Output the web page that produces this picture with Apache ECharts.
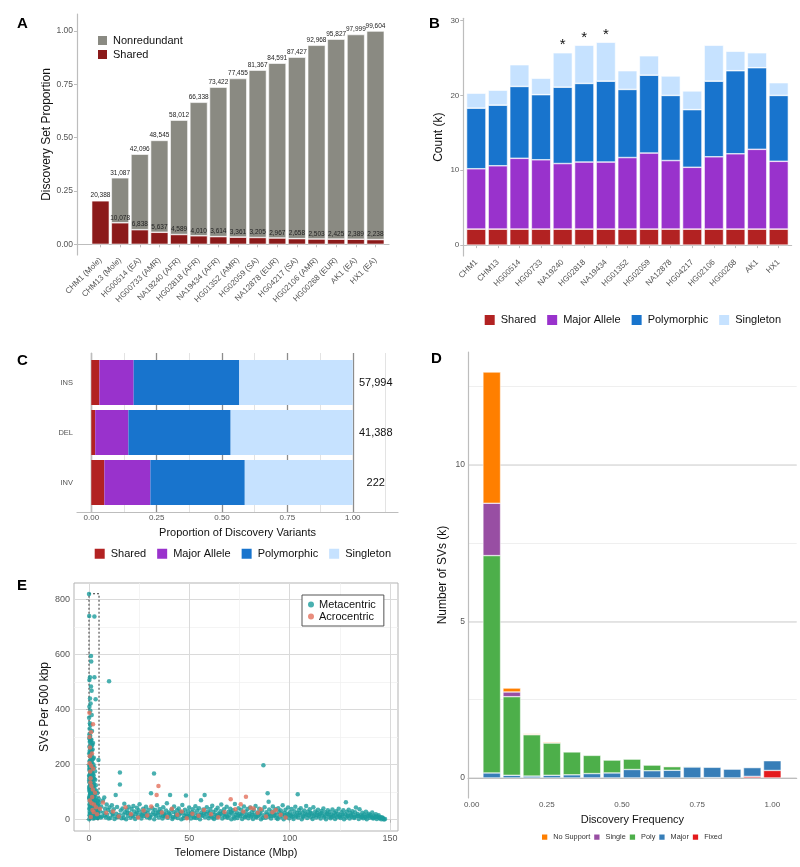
<!DOCTYPE html>
<html><head><meta charset="utf-8">
<script src="https://cdn.jsdelivr.net/npm/echarts@6/dist/echarts.min.js"></script>
<style>html,body{margin:0;padding:0;background:#fff}#c{width:800px;height:867px}</style>
</head><body><div id="c"></div>
<script>
// ---------------- Panel A ----------------
const aSamples = ['CHM1 (Mole)','CHM13 (Mole)','HG00514 (EA)','HG00733 (AMR)','NA19240 (AFR)','HG02818 (AFR)','NA19434 (AFR)','HG01352 (AMR)','HG02059 (SA)','NA12878 (EUR)','HG04217 (SA)','HG02106 (AMR)','HG00268 (EUR)','AK1 (EA)','HX1 (EA)'];
const aCumulative = [20388,31087,42096,48545,58012,66338,73422,77455,81367,84591,87427,92968,95827,97999,99604];
const aShared = [20388,10078,6838,5637,4589,4010,3614,3361,3205,2967,2658,2503,2425,2389,2238];

// ---------------- Panel B (thousands, segment heights) ----------------
const bSamples = ['CHM1','CHM13','HG00514','HG00733','NA19240','HG02818','NA19434','HG01352','HG02059','NA12878','HG04217','HG02106','HG00268','AK1','HX1'];
const bShared = [2.14,2.14,2.14,2.14,2.14,2.14,2.14,2.14,2.14,2.14,2.14,2.14,2.14,2.14,2.14];
const bMajor = [8.06,8.46,9.46,9.26,8.76,8.96,8.96,9.56,10.16,9.16,8.26,9.66,10.06,10.66,9.06];
const bPoly = [8.1,8.1,9.6,8.7,10.2,10.5,10.8,9.1,10.4,8.7,7.7,10.1,11.1,10.9,8.8];
const bSingleton = [2.0,2.0,2.9,2.2,4.6,5.1,5.2,2.5,2.6,2.6,2.5,4.8,2.6,2.0,1.7];
const bStars = ['','','','','*','*','*','','','','','','','',''];

// ---------------- Panel C (proportions) ----------------
const cTypes = ['INS','DEL','INV'];
const cTotals = [57994, 41388, 222];
const cShared = [0.031, 0.015, 0.050];
const cMajor = [0.131, 0.127, 0.176];
const cPoly = [0.404, 0.391, 0.361];
const cSingleton = [0.434, 0.467, 0.413];

// ---------------- Panel D (thousands) ----------------
const dFreq = ['0.067','0.133','0.200','0.267','0.333','0.400','0.467','0.533','0.600','0.667','0.733','0.800','0.867','0.933','1.000'];
const dFixed = [0,0,0,0,0,0,0,0,0,0,0,0.01,0,0.05,0.24];
const dMajor = [0.16,0.085,0.06,0.085,0.10,0.14,0.16,0.27,0.23,0.245,0.35,0.33,0.28,0.28,0.31];
const dPoly = [6.94,2.51,1.32,1.03,0.73,0.58,0.41,0.33,0.18,0.115,0.02,0,0,0,0];
const dSingle = [1.67,0.15,0.01,0,0,0,0,0,0,0,0,0,0,0,0];
const dNoSupport = [4.19,0.125,0.025,0.03,0,0,0,0,0,0.02,0,0,0,0,0];

// ---------------- Panel E ([Mbp, SVs per 500 kbp]) ----------------
const eMetacentric = [
[0,819],[0.1,739],[2.7,737],[1,594],[1.1,574],[0.5,517],[2.7,517],[0.2,507],[1,483],[1.3,468],[3.3,437],[0.5,440],[0.2,410],[0.8,422],[0.7,344],[0.3,330],[1.5,322],[0.4,300],[1.2,290],[0.6,285],[2,278],[0.2,265],[1.8,255],[0.9,248],[0.1,240],[1.4,232],[2.4,225],[4.7,217],[0.3,212],[1.1,205],[2.2,200],[0.6,195],[1.6,188],[0.2,180],[3,176],[0.8,170],[1.9,165],[0.4,160],[1.3,152],[2.6,148],[0.1,142],[0.9,138],[2.1,134],[1.5,128],[3.4,125],[0.5,120],[1.2,115],[2.8,110],[0.3,106],[1.7,100],[4.1,96],[0.7,92],[2.4,88],[1.1,84],[3.6,80],[0.2,76],[1.9,72],[4.4,68],[0.8,64],[2.9,60],[1.4,56],[3.9,52],[0.5,48],[2.2,44],[4.8,40],[1.0,36],[3.2,32],[0.3,28],[2.6,24],[4.5,20],[1.7,16],[0.6,12],[3.8,8],[2.0,4],[0.1,2],[4.2,14],[1.3,70],[0.4,90],[2.5,130],[3.1,145],[0.9,225],[1.6,270],[0.2,310],[2.3,160],[3.7,105],[4.9,75],[1.8,190],[0.7,245],
[0.3,185],[1.0,175],[0.6,155],[1.4,140],[2.0,118],[0.1,112],[0.9,98],[1.6,86],[2.7,78],[0.4,66],[1.2,58],[3.3,50],[0.7,42],[1.9,30],[2.8,18],[4.0,30],[0.2,55],[3.5,62],[4.6,50],[1.5,46],
[0.5,230],[1.3,215],[0.2,198],[1.0,188],[0.7,178],[1.7,168],[0.4,158],[1.1,146],[0.2,136],[1.8,124],[0.6,112],[1.4,104],[0.9,94],[2.3,96],[0.3,84],[1.6,76],[2.1,66],[0.8,52],[1.5,40],[2.4,34],[0.5,22],[1.2,10],[2.9,12],[3.4,26],[4.3,6],[0.1,160],[0.1,120],[0.1,80],[0.1,40],[2.2,150],[2.6,120],[3.0,70],[3.6,36],[1.0,262],[0.4,282],[1.3,252],[0.6,305],[2.0,220],[2.9,90],[4.6,10],
[0.35,250],[0.75,238],[1.15,222],[0.45,214],[1.45,207],[0.25,192],[0.85,183],[1.25,172],[0.55,166],[1.65,156],[0.15,150],[1.05,132],[0.65,126],[1.85,116],[0.35,102],[1.25,92],[2.15,82],[0.55,78],[1.75,62],[2.45,72],[0.95,46],[1.85,50],[2.75,40],[3.25,20],[3.85,24],[0.25,16],[1.45,26],[2.35,8],[4.45,32],[3.05,6],[0.85,290],[1.45,275],[0.15,295],[2.65,190],[3.15,100],[4.25,58],[0.45,350],[0.05,370],[0.65,395],[1.35,380],
[5.2,62],[5.6,30],[6.1,48],[6.4,12],[6.9,70],[7.3,25],[7.6,81],[8.0,40],[8.4,8],[8.8,55],[9.1,18],[9.5,35],[10,502],[10.2,44],[10.6,6],[11.0,28],[11.4,52],[11.9,15],[12.3,38],[12.7,3],[13.3,90],[13.6,22],[14.0,46],[14.5,10],[15.4,171],[15.4,128],[15.8,33],[16.2,5],[16.7,41],[17.1,19],[17.6,58],[18.0,27],[18.5,2],[18.9,36],[19.4,14],[19.8,47],
[20.3,24],[20.7,7],[21.2,39],[21.6,16],[22.1,50],[22.5,30],[23.0,3],[23.4,21],[23.9,43],[24.3,11],[24.8,34],[25.2,56],[25.7,19],[26.1,4],[26.6,28],[27.0,40],[27.5,13],[27.9,31],[28.4,47],[28.8,9],[29.3,23],[29.7,36],[30.2,5],[30.9,96],[31.1,18],[31.6,42],[32.0,27],[32.4,168],[32.5,2],[33.0,35],[33.4,14],[33.9,52],[34.3,24],[34.8,8],[35.2,39],[35.7,17],[36.1,30],[36.6,4],[37.0,45],[37.5,21],[37.9,12],[38.4,33],[38.8,60],[39.3,7],[39.7,26],
[40.4,90],[40.6,15],[41.1,37],[41.5,3],[42.0,28],[42.4,48],[42.9,10],[43.3,22],[43.8,34],[44.2,6],[44.7,41],[45.1,18],[45.6,29],[46.0,2],[46.5,53],[46.9,25],[47.4,13],[47.8,36],[48.3,88],[48.5,20],[49.0,8],[49.4,31],[49.9,44],[50.3,16],[50.8,4],[51.2,27],[51.7,38],[52.1,11],[52.6,23],[53.0,49],[53.5,6],[53.9,33],[54.4,19],[54.8,42],[55.3,2],[55.8,71],[56.0,26],[56.5,14],[57.0,37],[57.6,90],[57.8,9],[58.3,21],[58.7,45],[59.2,30],[59.6,5],
[60.1,24],[60.5,39],[61.0,12],[61.4,51],[61.9,28],[62.3,3],[62.8,19],[63.2,35],[63.7,8],[64.1,43],[64.6,22],[65.0,14],[65.5,31],[65.9,55],[66.4,4],[66.8,26],[67.3,38],[67.7,10],[68.2,20],[68.6,47],[69.1,7],[69.5,29],[70.0,16],[70.4,40],[70.9,2],[71.3,24],[71.8,34],[72.2,11],[72.7,57],[73.1,18],[73.6,27],[74.0,6],[74.5,42],[74.9,21],[75.4,13],[75.8,36],[76.3,3],[76.7,25],[77.2,48],[77.6,9],[78.1,30],[78.5,17],[79.0,39],[79.4,5],
[79.9,22],[80.3,44],[80.8,12],[81.2,28],[81.7,3],[82.1,35],[82.6,19],[83.0,50],[83.5,8],[83.9,26],[84.4,14],[84.8,40],[85.3,23],[85.7,2],[86.2,33],[86.9,198],[87.1,16],[87.5,45],[88.0,7],[88.4,27],[89.0,96],[89.3,11],[89.5,65],[89.8,37],[90.2,20],[90.7,4],[91.1,30],[91.6,48],[92.0,13],[92.5,24],[92.9,38],[93.4,6],[93.8,18],[94.3,42],[94.7,28],[95.2,9],[95.6,33],[96.1,15],[96.5,52],[97.0,2],[97.4,25],[97.9,36],[98.3,10],[98.8,21],[99.2,44],
[99.7,5],[100.1,27],[100.6,14],[101.0,39],[101.5,19],[101.9,3],[102.4,31],[102.8,47],[103.3,11],[103.7,24],[104.0,92],[104.2,8],[104.6,35],[105.1,17],[105.5,42],[106.0,2],[106.4,26],[106.9,13],[107.3,33],[107.8,21],[108.2,50],[108.7,6],[109.1,29],[109.6,15],[110.0,38],[110.5,10],[110.9,23],[111.4,3],[111.8,45],[112.3,18],[112.7,30],[113.2,8],[113.6,25],[114.1,36],[114.5,12],[115.0,20],[115.4,4],[115.9,32],[116.3,16],[116.8,41],[117.2,9],[117.7,27],[118.1,2],[118.6,22],[119.0,34],
[119.5,11],[119.9,28],[120.4,5],[120.8,19],[121.3,37],[121.7,14],[122.2,25],[122.6,3],[123.1,31],[123.5,9],[124.0,22],[124.4,40],[124.9,16],[125.3,6],[125.8,27],[126.2,12],[126.7,34],[127.1,2],[127.6,20],[128.0,63],[128.2,8],[128.5,29],[129.0,15],[129.4,36],[129.9,4],[130.3,24],[130.8,11],[131.2,31],[131.7,18],[132.1,6],[132.6,27],[133.0,44],[133.5,13],[133.9,21],[134.4,3],[134.8,38],[135.3,16],[135.7,9],[136.2,25],[136.6,5],[137.1,19],[137.5,12],[138.0,29],[138.4,2],[138.9,15],[139.3,22],[139.8,7],[140.2,17],[140.7,11],[141.1,26],[141.6,4],[142.0,14],[142.5,9],[142.9,20],[143.4,3],[143.8,12],[144.3,16],[144.7,6],[145.2,10],[145.6,2],[146.1,8],[146.5,4],[147.0,1],[147.5,3],
[5.9,8],[7.9,15],[9.8,4],[11.7,21],[13.9,9],[15.1,17],[17.3,6],[19.1,24],[21.9,12],[24.0,26],[26.3,15],[28.1,20],[30.5,11],[32.8,19],[34.6,28],[36.9,13],[38.1,18],[40.0,22],[41.8,9],[43.6,16],[45.4,23],[47.1,5],[48.9,14],[50.6,21],[52.4,7],[54.1,12],[55.9,17],[57.4,24],[59.9,13],[61.7,7],[63.5,15],[65.3,21],[67.0,18],[68.9,12],[70.7,27],[72.5,4],[74.3,15],[76.0,19],[77.9,12],[79.7,14],[81.5,17],[83.2,11],[85.0,18],[86.6,7],[88.7,19],[90.5,13],[92.3,17],[94.0,3],[95.9,22],[97.7,16],[99.5,18],[101.3,11],[103.0,16],[104.9,23],[106.7,10],[108.5,18],[110.3,24],[112.0,13],[113.9,17],[115.7,24],[117.5,14],[119.3,19],[121.0,10],[122.9,17],[124.7,11],[126.5,19],[128.8,13],[130.6,16],[132.4,10],[134.1,14],[136.0,12],[137.8,8],[139.6,13],[141.4,7],[143.1,10],[144.9,5],[146.3,6]
];
const eAcrocentric = [
[0.2,388],[2,346],[1,317],[0.5,262],[1.5,240],[0.3,205],[2.1,185],[0.8,150],[1.2,122],[3,98],[0.4,70],[2.5,55],[1.7,35],[4,20],[0.9,10],[3.5,45],[0.6,175],[1.9,110],
[0.4,230],[1.1,195],[0.7,135],[1.6,82],[2.3,28],[0.3,300],[1.3,60],
[5.5,40],[7,62],[8.6,25],[12,30],[14.8,12],[18.2,45],[20.9,20],[24.5,8],[27.2,33],[29,15],[33.7,90],[34.6,122],[36.3,26],[39,10],[41.3,40],[44,18],[46.2,30],[48.7,5],[51.5,22],[54.6,14],[57.3,35],[60.8,20],[64.4,9],[67.5,28],[70.6,74],[72.9,38],[75.6,56],[76.9,30],[78.2,83],[80.5,43],[82,41],[84.1,25],[85.6,38],[88.2,12],[91.4,27],[93.1,35],[95.5,18],[98,8],[31,48]
];
const eWindow = [[0, 0], [5, 820]];

// ---------------- helpers ----------------
const FONT = 'Liberation Sans, Arial, Helvetica, sans-serif';
const TICK = '#555';
const AXIS_LINE = {show:true, lineStyle:{color:'#BDBDBD', width:1.2}};
const fmt = v => v.toLocaleString('en-US');
const aTotal = aCumulative[aCumulative.length - 1];
function valAxis(gridIndex, min, max, step, extra) {
  return Object.assign({
    type:'value', gridIndex, min, max, minInterval:step, maxInterval:step,
    splitNumber: Math.max(1, Math.round((max - min) / step)),
    axisTick:{show:false}, splitLine:{show:false}, axisLine:{show:false},
    axisLabel:{show:false}
  }, extra);
}
function catAxis(gridIndex, data, extra) {
  return Object.assign({type:'category', gridIndex, data, boundaryGap:true,
    axisLine:{show:false}, axisTick:{show:false}, axisLabel:{show:false}, splitLine:{show:false}}, extra);
}
const lbl = (o) => Object.assign({show:true, color:TICK, fontFamily:FONT, showMinLabel:false, showMaxLabel:false}, o);
const nm = (o) => Object.assign({color:'#111', fontSize:11, fontFamily:FONT}, o);
const COL = {shared:'#B22222', major:'#9932CC', poly:'#1874CD', single:'#C6E2FF'};
const bd = {borderColor:'#fff', borderWidth:0.6};
const letter = (t, left, top) => ({text:t, left, top, textStyle:{fontSize:15, fontWeight:'bold', color:'#000', fontFamily:FONT}});

const chart = echarts.init(document.getElementById('c'), null, {renderer:'canvas'});
const option = {
  animation:false,
  backgroundColor:'#fff',
  textStyle:{fontFamily:FONT},
  title:[letter('A',12,11), letter('B',424,11), letter('C',12,348), letter('D',426,346), letter('E',12,573)],
  grid:[
    {left:77, top:14, width:312, height:241, outerBoundsMode:'none'},          // 0 A frame
    {left:90.68, top:14, width:294.6, height:241, outerBoundsMode:'none'},     // 1 A bars
    {left:463.3, top:18.3, width:328.3, height:237.7, outerBoundsMode:'none'}, // 2 B frame
    {left:465.46, top:18.3, width:324, height:237.7, outerBoundsMode:'none'},  // 3 B bars
    {left:77, top:353, width:321, height:159, outerBoundsMode:'none'},         // 4 C frame
    {left:77, top:357.5, width:321, height:150, outerBoundsMode:'none'},       // 5 C bars
    {left:468, top:352, width:328.7, height:446, outerBoundsMode:'none'},      // 6 D frame
    {left:481.72, top:352, width:300.65, height:446, outerBoundsMode:'none'},  // 7 D bars
    {left:74, top:583, width:324, height:248, show:true, borderColor:'#B3B3B3', borderWidth:1, outerBoundsMode:'none'} // 8 E
  ],
  legend:[
    {left:96, top:34, orient:'vertical', padding:0, itemGap:1, itemWidth:11, itemHeight:11, icon:'rect',
     textStyle:{fontSize:11, color:'#111', fontFamily:FONT},
     data:[{name:'Nonredundant', itemStyle:{color:'#8A8A82'}}, {name:'Shared', itemStyle:{color:'#8B1A1A'}}]},
    {left:482.7, top:313, orient:'horizontal', padding:0, itemGap:9, itemWidth:12, itemHeight:12, icon:'rect',
     textStyle:{fontSize:11, color:'#111', fontFamily:FONT},
     data:[{name:'Shared', itemStyle:{color:COL.shared}}, {name:'Major Allele', itemStyle:{color:COL.major}}, {name:'Polymorphic', itemStyle:{color:COL.poly}}, {name:'Singleton', itemStyle:{color:COL.single}}]},
    {left:92.7, top:546.7, orient:'horizontal', padding:0, itemGap:9, itemWidth:12, itemHeight:12, icon:'rect',
     textStyle:{fontSize:11, color:'#111', fontFamily:FONT},
     data:[{name:'Shared', itemStyle:{color:COL.shared}}, {name:'Major Allele', itemStyle:{color:COL.major}}, {name:'Polymorphic', itemStyle:{color:COL.poly}}, {name:'Singleton', itemStyle:{color:COL.single}}]},
    {left:540, top:832.5, orient:'horizontal', padding:0, itemGap:2, itemWidth:7.3, itemHeight:7.3, icon:'rect',
     textStyle:{fontSize:7.3, color:'#333', fontFamily:FONT},
     data:['No Support','Single','Poly','Major','Fixed']},
    {left:302, top:595, orient:'vertical', padding:[4,8,4,6], itemGap:1, itemWidth:6, itemHeight:6, icon:'circle',
     borderColor:'#555', borderWidth:1, backgroundColor:'#fff',
     textStyle:{fontSize:11, color:'#111', fontFamily:FONT},
     data:['Metacentric','Acrocentric']}
  ],
  xAxis:[
    // 0: A frame
    valAxis(0, 0, 1, 1, {position:'bottom', axisLine:AXIS_LINE}),
    // 1: A bars
    catAxis(1, aSamples, {position:'bottom',
      axisTick:{show:true, alignWithLabel:true, length:3, lineStyle:{color:'#BDBDBD'}},
      axisLabel:{show:true, interval:0, rotate:45, fontSize:8, margin:4, color:TICK, fontFamily:FONT}}),
    // 2: B frame
    valAxis(2, 0, 1, 1, {position:'bottom', axisLine:AXIS_LINE}),
    // 3: B bars
    catAxis(3, bSamples, {position:'bottom',
      axisTick:{show:true, alignWithLabel:true, length:3, lineStyle:{color:'#BDBDBD'}},
      axisLabel:{show:true, interval:0, rotate:45, fontSize:8, margin:5, color:TICK, fontFamily:FONT}}),
    // 4: C minor grid
    valAxis(4, -0.0547, 1.173, 0.125, {position:'bottom',
      splitLine:{show:true, showMinLine:false, showMaxLine:false, lineStyle:{color:'#DCDCDC', width:0.8}}}),
    // 5: C major grid + labels
    valAxis(4, -0.0547, 1.173, 0.25, {position:'bottom', axisLine:AXIS_LINE,
      splitLine:{show:true, showMinLine:false, showMaxLine:false, lineStyle:{color:'#8C8C8C', width:1.3}},
      axisLabel:lbl({fontSize:8, margin:2, formatter:v => v.toFixed(2)}),
      name:'Proportion of Discovery Variants', nameLocation:'middle', nameGap:15, nameTextStyle:nm({})}),
    // 6: C bars (same scale, hidden)
    valAxis(5, -0.0547, 1.173, 0.25, {position:'bottom', show:false}),
    // 7: D frame
    valAxis(6, -0.0123, 1.081, 0.25, {position:'bottom', axisLine:AXIS_LINE,
      axisLabel:lbl({fontSize:8, margin:3, formatter:v => v.toFixed(2)}),
      name:'Discovery Frequency', nameLocation:'middle', nameGap:16, nameTextStyle:nm({})}),
    // 8: D bars
    catAxis(7, dFreq, {position:'bottom', show:false}),
    // 9: E minor
    valAxis(8, -7.47, 153.96, 25, {position:'bottom',
      splitLine:{show:true, showMinLine:false, showMaxLine:false, lineStyle:{color:'#EFEFEF', width:0.7}}}),
    // 10: E major
    valAxis(8, -7.47, 153.96, 50, {position:'bottom',
      splitLine:{show:true, showMinLine:false, showMaxLine:false, lineStyle:{color:'#DADADA', width:1}},
      axisTick:{show:true, length:3, lineStyle:{color:'#B3B3B3'}},
      axisLabel:lbl({fontSize:9, margin:3, formatter:v => String(v)}),
      name:'Telomere Distance (Mbp)', nameLocation:'middle', nameGap:16, nameTextStyle:nm({})})
  ],
  yAxis:[
    // 0: A frame
    valAxis(0, -0.05, 1.08, 0.25, {position:'left', axisLine:AXIS_LINE,
      axisTick:{show:true, length:3, lineStyle:{color:'#BDBDBD'}},
      axisLabel:lbl({fontSize:8.5, margin:4, formatter:v => v.toFixed(2)}),
      name:'Discovery Set Proportion', nameLocation:'middle', nameGap:24, nameTextStyle:nm({fontSize:12})}),
    // 1: A bars
    valAxis(1, -0.05, 1.08, 0.25, {position:'left', show:false}),
    // 2: B frame
    valAxis(2, -1.45, 30.3, 10, {position:'left', axisLine:AXIS_LINE,
      axisTick:{show:true, length:3, lineStyle:{color:'#BDBDBD'}},
      axisLabel:lbl({fontSize:8, margin:4, formatter:v => String(v)}),
      name:'Count (k)', nameLocation:'middle', nameGap:19, nameTextStyle:nm({fontSize:12})}),
    // 3: B bars
    valAxis(3, -1.45, 30.3, 10, {position:'left', show:false}),
    // 4: C frame (axis line only)
    valAxis(4, 0, 1, 1, {position:'left', axisLine:AXIS_LINE}),
    // 5: C categories
    {type:'category', gridIndex:5, position:'left', data:cTypes, inverse:true, axisLine:{show:false}, axisTick:{show:false},
     axisLabel:{color:TICK, fontSize:7.5, margin:4, fontFamily:FONT}, splitLine:{show:false}},
    // 6: D minor
    valAxis(6, -0.64, 13.6, 2.5, {position:'left',
      splitLine:{show:true, showMinLine:false, showMaxLine:false, lineStyle:{color:'#EBEBEB', width:0.8}}}),
    // 7: D major
    valAxis(6, -0.64, 13.6, 5, {position:'left', axisLine:AXIS_LINE,
      splitLine:{show:true, showMinLine:false, showMaxLine:false, lineStyle:{color:'#DEDEDE', width:1.5}},
      axisLabel:lbl({fontSize:8.5, margin:3, formatter:v => String(v)}),
      name:'Number of SVs (k)', nameLocation:'middle', nameGap:19, nameTextStyle:nm({fontSize:12})}),
    // 8: D bars
    valAxis(7, -0.64, 13.6, 5, {position:'left', show:false}),
    // 9: E minor
    valAxis(8, -41, 859, 100, {position:'left',
      splitLine:{show:true, showMinLine:false, showMaxLine:false, lineStyle:{color:'#EFEFEF', width:0.7}}}),
    // 10: E major
    valAxis(8, -41, 859, 200, {position:'left',
      splitLine:{show:true, showMinLine:false, showMaxLine:false, lineStyle:{color:'#DADADA', width:1}},
      axisTick:{show:true, length:3, lineStyle:{color:'#B3B3B3'}},
      axisLabel:lbl({fontSize:9, margin:4, formatter:v => String(v)}),
      name:'SVs Per 500 kbp', nameLocation:'middle', nameGap:23, nameTextStyle:nm({fontSize:12})})
  ],
  series:[
    // ---- A
    {type:'bar', name:'Shared', xAxisIndex:1, yAxisIndex:1, stack:'A', barWidth:'90%',
     data:aShared.map(v => v/aTotal), itemStyle:Object.assign({color:'#8B1A1A'}, bd),
     label:{show:true, position:'top', distance:1.5, fontSize:6.5, color:'#222', fontFamily:FONT,
       formatter:p => aShared[p.dataIndex] === aCumulative[p.dataIndex] ? '' : fmt(aShared[p.dataIndex])}},
    {type:'bar', name:'Nonredundant', xAxisIndex:1, yAxisIndex:1, stack:'A', barWidth:'90%',
     data:aCumulative.map((v,i) => (v - aShared[i])/aTotal), itemStyle:Object.assign({color:'#8A8A82'}, bd),
     label:{show:true, position:'top', distance:1.5, fontSize:6.5, color:'#222', fontFamily:FONT,
       formatter:p => fmt(aCumulative[p.dataIndex])}},
    // ---- B
    {type:'bar', name:'Shared', xAxisIndex:3, yAxisIndex:3, stack:'B', barWidth:'90%',
     data:bShared, itemStyle:Object.assign({color:COL.shared}, bd)},
    {type:'bar', name:'Major Allele', xAxisIndex:3, yAxisIndex:3, stack:'B', barWidth:'90%',
     data:bMajor, itemStyle:Object.assign({color:COL.major}, bd)},
    {type:'bar', name:'Polymorphic', xAxisIndex:3, yAxisIndex:3, stack:'B', barWidth:'90%',
     data:bPoly, itemStyle:Object.assign({color:COL.poly}, bd)},
    {type:'bar', name:'Singleton', xAxisIndex:3, yAxisIndex:3, stack:'B', barWidth:'90%',
     data:bSingleton, itemStyle:Object.assign({color:COL.single}, bd),
     label:{show:true, position:'top', distance:0, fontSize:15, color:'#111', fontFamily:FONT,
       formatter:p => bStars[p.dataIndex]}},
    // ---- C
    {type:'bar', name:'Shared', xAxisIndex:6, yAxisIndex:5, stack:'C', barWidth:'90%',
     data:cShared, itemStyle:{color:COL.shared}},
    {type:'bar', name:'Major Allele', xAxisIndex:6, yAxisIndex:5, stack:'C', barWidth:'90%',
     data:cMajor, itemStyle:{color:COL.major}},
    {type:'bar', name:'Polymorphic', xAxisIndex:6, yAxisIndex:5, stack:'C', barWidth:'90%',
     data:cPoly, itemStyle:{color:COL.poly}},
    {type:'bar', name:'Singleton', xAxisIndex:6, yAxisIndex:5, stack:'C', barWidth:'90%',
     data:cSingleton, itemStyle:{color:COL.single},
     label:{show:true, position:'right', distance:23, align:'center', fontSize:11, color:'#111', fontFamily:FONT,
       formatter:p => fmt(cTotals[p.dataIndex])}},
    // ---- D
    {type:'bar', name:'Fixed', xAxisIndex:8, yAxisIndex:8, stack:'D', barWidth:'88%',
     data:dFixed.map(v => v || null), itemStyle:{color:'#E41A1C', borderColor:'#fff', borderWidth:0.5}},
    {type:'bar', name:'Major', xAxisIndex:8, yAxisIndex:8, stack:'D', barWidth:'88%',
     data:dMajor.map(v => v || null), itemStyle:{color:'#377EB8', borderColor:'#fff', borderWidth:0.5}},
    {type:'bar', name:'Poly', xAxisIndex:8, yAxisIndex:8, stack:'D', barWidth:'88%',
     data:dPoly.map(v => v || null), itemStyle:{color:'#4DAF4A', borderColor:'#fff', borderWidth:0.5}},
    {type:'bar', name:'Single', xAxisIndex:8, yAxisIndex:8, stack:'D', barWidth:'88%',
     data:dSingle.map(v => v || null), itemStyle:{color:'#984EA3', borderColor:'#fff', borderWidth:0.5}},
    {type:'bar', name:'No Support', xAxisIndex:8, yAxisIndex:8, stack:'D', barWidth:'88%',
     data:dNoSupport.map(v => v || null), itemStyle:{color:'#FF7F00', borderColor:'#fff', borderWidth:0.5}},
    // ---- E
    {type:'scatter', name:'Metacentric', xAxisIndex:10, yAxisIndex:10, symbolSize:4.5,
     data:eMetacentric, itemStyle:{color:'#1B9C9C'},
     markArea:{silent:true, itemStyle:{color:'rgba(0,0,0,0)', borderColor:'#333', borderWidth:1, borderType:[2,2]},
       data:[[{coord:eWindow[0]}, {coord:eWindow[1]}]]}},
    {type:'scatter', name:'Acrocentric', xAxisIndex:10, yAxisIndex:10, symbolSize:4.5,
     data:eAcrocentric, itemStyle:{color:'#E4705C'}}
  ]
};
chart.setOption(option);
</script>
</body></html>
